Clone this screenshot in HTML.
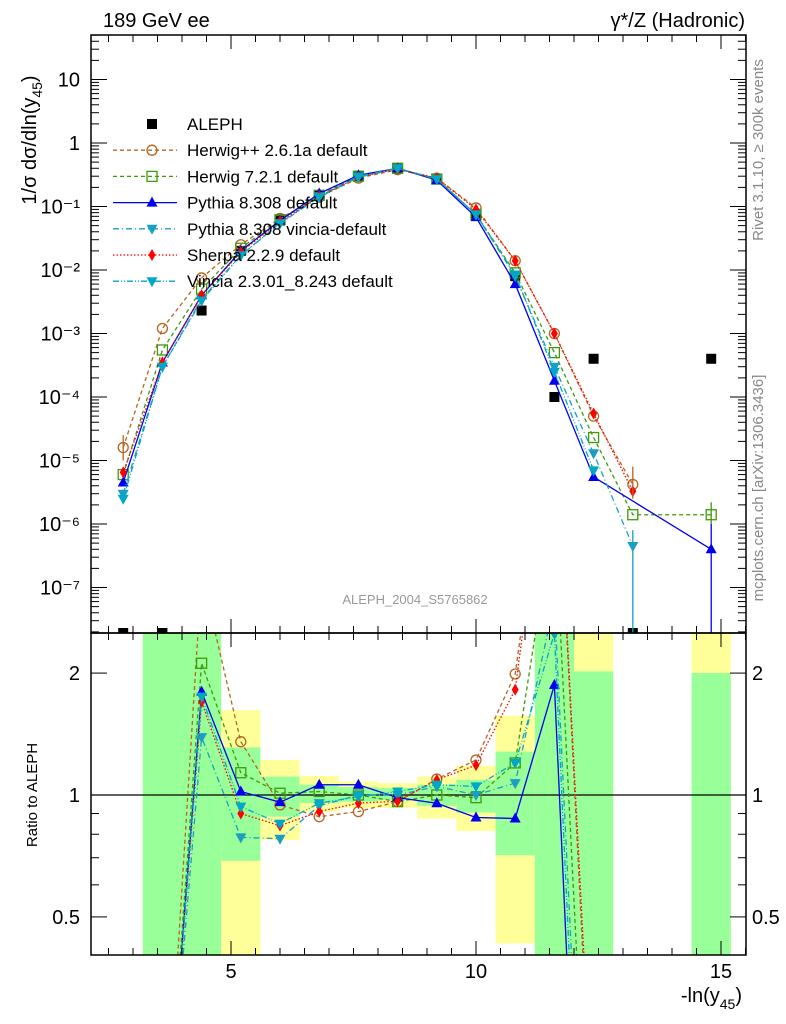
<!DOCTYPE html>
<html><head><meta charset="utf-8">
<style>
html,body{margin:0;padding:0;background:#fff;width:786px;height:1024px;overflow:hidden;}
svg{display:block;font-family:"Liberation Sans",sans-serif;}
</style></head>
<body>
<svg id="chart" width="786" height="1024" viewBox="0 0 786 1024" xmlns="http://www.w3.org/2000/svg">
<defs>
<clipPath id="clipMain"><rect x="91" y="35" width="655" height="598"/></clipPath>
<clipPath id="clipRatio"><rect x="91" y="633" width="655" height="322"/></clipPath>
</defs>
<rect x="0" y="0" width="786" height="1024" fill="#fff"/>
<g id="ratioBands" clip-path="url(#clipRatio)"></g>
<g id="alephMarks" clip-path="url(#clipMain)"></g>
<g id="mainMarks" clip-path="url(#clipMain)"></g>
<g id="ratioMarks" clip-path="url(#clipRatio)"></g>
<g id="axes"></g>
<text x="103" y="27" font-size="20">189 GeV ee</text>
<text x="745" y="27" font-size="20" text-anchor="end">γ*/Z (Hadronic)</text>
<text x="415" y="604" font-size="13" fill="#999" text-anchor="middle">ALEPH_2004_S5765862</text>
<text transform="translate(763,150) rotate(-90)" font-size="15" fill="#888" text-anchor="middle">Rivet 3.1.10, ≥ 300k events</text>
<text transform="translate(763,488) rotate(-90)" font-size="15" fill="#888" text-anchor="middle">mcplots.cern.ch [arXiv:1306.3436]</text>
<text transform="translate(36,140) rotate(-90)" font-size="20" text-anchor="middle">1/σ  dσ/dln(y<tspan font-size="14" dy="6">45</tspan><tspan dy="-6">)</tspan></text>
<text transform="translate(37,795) rotate(-90)" font-size="15" text-anchor="middle">Ratio to ALEPH</text>
<text x="742" y="1002" font-size="20" text-anchor="end">-ln(y<tspan font-size="14" dy="7">45</tspan><tspan dy="-7">)</tspan></text>
<g id="legend"></g>
</svg>
<script>
const centers = [2.8,3.6,4.4,5.2,6.0,6.8,7.6,8.4,9.2,10.0,10.8,11.6,12.4,13.2,14.8];
const alephVals = [1e-8,1e-8,2.3e-3,2.0e-2,6.0e-2,0.15,0.30,0.40,0.27,0.075,8e-3,1e-4,4e-4,1e-8,4e-4];
const herwigppVals = [1.6e-5,1.2e-3,7.5e-3,2.5e-2,6.5e-2,0.14,0.28,0.38,0.28,0.095,0.014,1e-3,5e-5,4.2e-6,null];
const herwig7Vals = [6e-6,5.5e-4,5e-3,2.2e-2,6.2e-2,0.15,0.30,0.40,0.27,0.075,9e-3,5e-4,2.3e-5,1.4e-6,1.4e-6];
const pythiaVals = [4.5e-6,3.5e-4,4e-3,2.0e-2,6.0e-2,0.16,0.31,0.40,0.26,0.068,6e-3,1.8e-4,5.5e-6,null,4e-7];
const vinciaDefVals = [3e-6,3e-4,3.5e-3,1.7e-2,5.5e-2,0.145,0.30,0.40,0.27,0.075,8e-3,3e-4,1.3e-5,4.5e-7,null];
const sherpaVals = [6.5e-6,3.5e-4,4e-3,1.9e-2,5.8e-2,0.145,0.29,0.39,0.28,0.09,0.014,1e-3,5.5e-5,3.3e-6,null];
const vincia23Vals = [2.5e-6,3e-4,3.3e-3,1.7e-2,5.4e-2,0.14,0.29,0.40,0.27,0.075,8.5e-3,2.5e-4,7e-6,null,null];

const herwigppRatio = [null,0.1,3.5,1.354,0.945,0.884,0.91,0.963,1.095,1.22,1.99,10,0.12,null,null];
const herwig7Ratio = [null,0.1,2.115,1.135,1.01,1.02,1.0,0.963,1.0,0.985,1.2,5,0.06,null,0.0035];
const pythiaRatio = [null,0.1,1.8,1.02,0.96,1.06,1.06,0.985,0.954,0.88,0.875,1.87,0.014,null,0.001];
const vinciaDefRatio = [null,0.1,1.39,0.786,0.78,0.94,1.0,1.0,1.05,1.0,1.07,3,0.03,null,null];
const sherpaRatio = [null,0.1,1.7,0.9,0.84,0.91,0.955,0.965,1.09,1.185,1.82,10,0.14,null,null];
const vincia23Ratio = [null,0.1,1.75,0.936,0.85,0.955,0.99,1.02,1.06,1.05,1.2,2.5,0.02,null,null];

const greenLo = [null,0.1,0.1,0.688,0.884,0.955,0.963,0.97,0.94,0.905,0.71,0.1,0.1,null,0.1];
const greenHi = [null,10,10,1.31,1.11,1.06,1.046,1.04,1.06,1.09,1.28,10,2.02,null,2.0];
const yellowLo = [null,0.1,0.1,0.1,0.774,0.91,0.93,0.93,0.875,0.815,0.43,0.1,0.1,null,0.1];
const yellowHi = [null,10,10,1.62,1.22,1.114,1.08,1.07,1.11,1.18,1.57,10,10,null,10];

const xTickLabels = ["5","10","15"];
const yMainTickLabels = ["10","1","10⁻¹","10⁻²","10⁻³","10⁻⁴","10⁻⁵","10⁻⁶","10⁻⁷"];
const ratioTickLabels = ["0.5","1","2"];

const NS="http://www.w3.org/2000/svg";
const X0=91,X1=746,YT=35,YB=633,YR=955;
function xs(x){return 231+49*(x-5);}
function ym(v){return 143-63.5*Math.log10(v);}
function yr(r){return 795-405*Math.log10(r);}
function el(tag,attrs,parent){const e=document.createElementNS(NS,tag);for(const k in attrs)e.setAttribute(k,attrs[k]);parent.appendChild(e);return e;}

const axes=document.getElementById('axes');
const mainG=document.getElementById('mainMarks');
const alephG=document.getElementById('alephMarks');
const ratioG=document.getElementById('ratioMarks');
const bandG=document.getElementById('ratioBands');

centers.forEach((c,i)=>{
  if(yellowLo[i]!=null){
    const r=el('rect',{x:xs(c-0.4),y:yr(yellowHi[i]),width:49*0.8,height:yr(yellowLo[i])-yr(yellowHi[i]),fill:'#ffff99'},bandG);
    
    
  }
  if(greenLo[i]!=null){
    const r=el('rect',{x:xs(c-0.4),y:yr(greenHi[i]),width:49*0.8,height:yr(greenLo[i])-yr(greenHi[i]),fill:'#99ff99'},bandG);
    
    
  }
});
const one=el('line',{x1:X0,x2:X1,y1:yr(1),y2:yr(1),stroke:'#000','stroke-width':1.2},ratioG);



const series=[
 {name:'herwigpp',label:'Herwig++ 2.6.1a default',vals:herwigppVals,ratio:herwigppRatio,color:'#b5651d',dash:'4,3',mk:'circle',fill:'none'},
 {name:'herwig7',label:'Herwig 7.2.1 default',vals:herwig7Vals,ratio:herwig7Ratio,color:'#3d9a0a',dash:'4,3',mk:'square',fill:'none'},
 {name:'pythia',label:'Pythia 8.308 default',vals:pythiaVals,ratio:pythiaRatio,color:'#0000ee',dash:'',mk:'up',fill:'#0000ee'},
 {name:'vincia-default',label:'Pythia 8.308 vincia-default',vals:vinciaDefVals,ratio:vinciaDefRatio,color:'#1a9ec4',dash:'6,3,1,3',mk:'down',fill:'#1a9ec4'},
 {name:'sherpa',label:'Sherpa 2.2.9 default',vals:sherpaVals,ratio:sherpaRatio,color:'#ff0000',dash:'1.5,2',mk:'diamond',fill:'#ff0000'},
 {name:'vincia23',label:'Vincia 2.3.01_8.243 default',vals:vincia23Vals,ratio:vincia23Ratio,color:'#00a8c8',dash:'6,2,1,2,1,2',mk:'down',fill:'#00a8c8'}
];
function marker(g,type,x,y,color,fill){
  let m;
  if(type==='circle')m=el('circle',{cx:x,cy:y,r:5,fill:'none',stroke:color,'stroke-width':1.3},g);
  else if(type==='square')m=el('rect',{x:x-5,y:y-5,width:10,height:10,fill:'none',stroke:color,'stroke-width':1.3},g);
  else if(type==='up')m=el('polygon',{points:`${x},${y-6} ${x-5.5},${y+4} ${x+5.5},${y+4}`,fill:fill},g);
  else if(type==='down')m=el('polygon',{points:`${x},${y+6} ${x-5.5},${y-4} ${x+5.5},${y-4}`,fill:fill},g);
  else if(type==='diamond')m=el('polygon',{points:`${x},${y-6} ${x-3.5},${y} ${x},${y+6} ${x+3.5},${y}`,fill:fill},g);
  else if(type==='sq')m=el('rect',{x:x-5,y:y-5,width:10,height:10,fill:'#000'},g);
  return m;
}
function drawSeries(g,s,arr,yf,pref){
  let pts=[];
  arr.forEach((v,i)=>{if(v!=null)pts.push([xs(centers[i]),yf(v)]);});
  const p=el('polyline',{points:pts.map(p=>p.join(',')).join(' '),fill:'none',stroke:s.color,'stroke-width':1.3,'stroke-dasharray':s.dash},g);
  
  
  arr.forEach((v,i)=>{if(v!=null){
    const m=marker(g,s.mk,xs(centers[i]),yf(v),s.color,s.fill);
    
    
  }});
}
alephVals.forEach((v,i)=>{
  const m=marker(alephG,'sq',xs(centers[i]),Math.min(ym(v),YB),'#000','#000');
  
  
});
series.forEach(s=>{drawSeries(mainG,s,s.vals,ym,'main-');drawSeries(ratioG,s,s.ratio,yr,'ratio-');});
[[14,1e-6,2.2e-6,'#3d9a0a'],[14,1e-9,1e-6,'#0000ee'],[13,1e-9,8e-7,'#1a9ec4'],[13,2.5e-6,8e-6,'#b5651d'],[0,1e-5,2.5e-5,'#b5651d']].forEach(e=>{
  const l=el('line',{x1:xs(centers[e[0]]),x2:xs(centers[e[0]]),y1:ym(e[1]),y2:ym(e[2]),stroke:e[3],'stroke-width':1.3},mainG);
  
  
});

[[YT,YB],[YB,YR]].forEach((f,k)=>{
  const r=el('rect',{x:X0,y:f[0],width:X1-X0,height:f[1]-f[0],fill:'none',stroke:'#000','stroke-width':1.5},axes);
  
  
});
for(let t=2.5;t<=15.5;t+=0.5){
  const major=(t%5===0);const len=major?14:7;
  [[YT,1],[YB,-1],[YB,1],[YR,-1]].forEach(a=>{
    const l=el('line',{x1:xs(t),x2:xs(t),y1:a[0],y2:a[0]+a[1]*len,stroke:'#000','stroke-width':1},axes);
    
    
  });
}
xTickLabels.forEach((lab,i)=>{
  const t=el('text',{x:xs(5*(i+1)),y:978,'font-size':20,'text-anchor':'middle'},axes);
  t.textContent=lab;
  
  
});
for(let d=-8;d<=1;d++){
  for(let m=1;m<10;m++){
    const v=m*Math.pow(10,d);const y=ym(v);
    if(y<YT||y>YB)continue;
    const len=m===1?16:8;
    [[X0,1],[X1,-1]].forEach(a=>{
      const l=el('line',{x1:a[0],x2:a[0]+a[1]*len,y1:y,y2:y,stroke:'#000','stroke-width':1},axes);
      
      
    });
  }
}
yMainTickLabels.forEach((lab,i)=>{
  const t=el('text',{x:80,y:ym(Math.pow(10,1-i))+7,'font-size':20,'text-anchor':'end'},axes);
  t.textContent=lab;
  
  
});
[0.5,0.6,0.7,0.8,0.9,1,2].forEach(v=>{
  const len=(v===0.5||v===1||v===2)?16:8;
  [[X0,1],[X1,-1]].forEach(a=>{
    const l=el('line',{x1:a[0],x2:a[0]+a[1]*len,y1:yr(v),y2:yr(v),stroke:'#000','stroke-width':1},axes);
    
    
  });
});
ratioTickLabels.forEach(lab=>{
  const v=parseFloat(lab);
  const t=el('text',{x:80,y:yr(v)+7,'font-size':20,'text-anchor':'end'},axes);
  t.textContent=lab;
  
  
  const t2=el('text',{x:752,y:yr(v)+7,'font-size':20},axes);
  t2.textContent=lab;
  
  
});
const lg=document.getElementById('legend');
const le=[{label:'ALEPH',mk:'sq',color:'#000',fill:'#000',dash:null}].concat(series);
le.forEach((s,i)=>{
  const y=124+26.2*i;
  const g=el('g',{},lg);
  
  
  if(s.dash!==null){el('line',{x1:113,x2:177,y1:y,y2:y,stroke:s.color,'stroke-width':1.3,'stroke-dasharray':s.dash},g);}
  marker(g,s.mk,152,y,s.color,s.fill);
  const t=el('text',{x:187,y:y+6,'font-size':17},g);
  t.textContent=s.label;
});
</script>
</body></html>
